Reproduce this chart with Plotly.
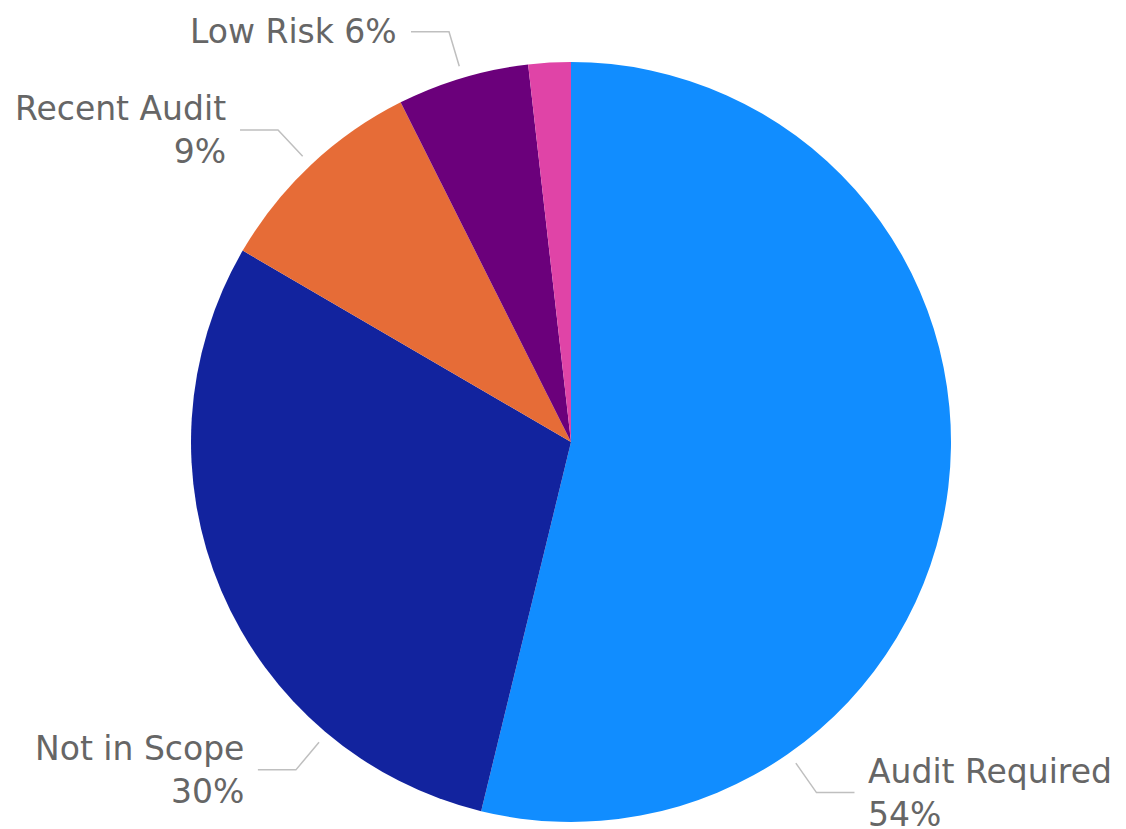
import math
import plotly.graph_objects as go

# Category shares (percent of total)
categories = ["Audit Required", "Not in Scope", "Recent Audit", "Low Risk", "Other"]
values = [53.8, 29.6, 9.2, 5.6, 1.8]
colors = ["#118DFF", "#12239E", "#E66C37", "#6B007B", "#E044A7"]

# Which slices get an outside label, and how its text wraps
show_label = [True, True, True, True, False]
wrap_label = [True, True, True, False, False]
# Leader-line anchor angle (degrees clockwise from 12 o'clock); None = slice middle
label_angle = [145, 220, None, None, None]

W, H = 1126, 829
CX, CY, R = 571, 442, 380  # pie centre and radius in pixels

TEXT_COLOR = "#666666"
LINE_COLOR = "#BFBFBF"
FONT = "DejaVu Sans"
FONT_SIZE = 33


def px(x, y):
    """pixel coordinates -> paper coordinates"""
    return x / W, 1 - y / H


fig = go.Figure(
    go.Pie(
        labels=categories,
        values=values,
        marker=dict(colors=colors, line=dict(width=0)),
        sort=False,
        direction="clockwise",
        rotation=0,
        textinfo="none",
        hole=0,
        showlegend=False,
        domain=dict(
            x=[(CX - R) / W, (CX + R) / W],
            y=[(H - CY - R) / H, (H - CY + R) / H],
        ),
    )
)

total = sum(values)
cum = 0.0
shapes = []
annotations = []
for i, (name, v) in enumerate(zip(categories, values)):
    start = cum
    cum += v
    if not show_label[i]:
        continue
    ang = label_angle[i]
    if ang is None:
        ang = (start + v / 2) / total * 360
    a = math.radians(ang)
    sx, sy = math.sin(a), -math.cos(a)
    x1, y1 = CX + 392 * sx, CY + 392 * sy
    x2, y2 = CX + 428 * sx, CY + 428 * sy
    side = 1 if sx >= 0 else -1
    x3 = x2 + side * 38
    p1, p2, p3 = px(x1, y1), px(x2, y2), px(x3, y2)
    shapes.append(
        dict(
            type="path",
            xref="paper",
            yref="paper",
            path=f"M {p1[0]},{p1[1]} L {p2[0]},{p2[1]} L {p3[0]},{p3[1]}",
            line=dict(color=LINE_COLOR, width=1.5),
        )
    )
    pct = round(v / total * 100)
    sep = "<br>" if wrap_label[i] else " "
    tx, ty = px(x3 + side * 12, y2)
    annotations.append(
        dict(
            text=f"{name}{sep}{pct}%",
            x=tx,
            y=ty,
            xref="paper",
            yref="paper",
            xanchor="left" if side > 0 else "right",
            yanchor="middle",
            align="left" if side > 0 else "right",
            showarrow=False,
            font=dict(family=FONT, size=FONT_SIZE, color=TEXT_COLOR),
        )
    )

fig.update_layout(
    width=W,
    height=H,
    margin=dict(l=0, r=0, t=0, b=0),
    paper_bgcolor="white",
    plot_bgcolor="white",
    shapes=shapes,
    annotations=annotations,
)

fig.write_html("out.html")
